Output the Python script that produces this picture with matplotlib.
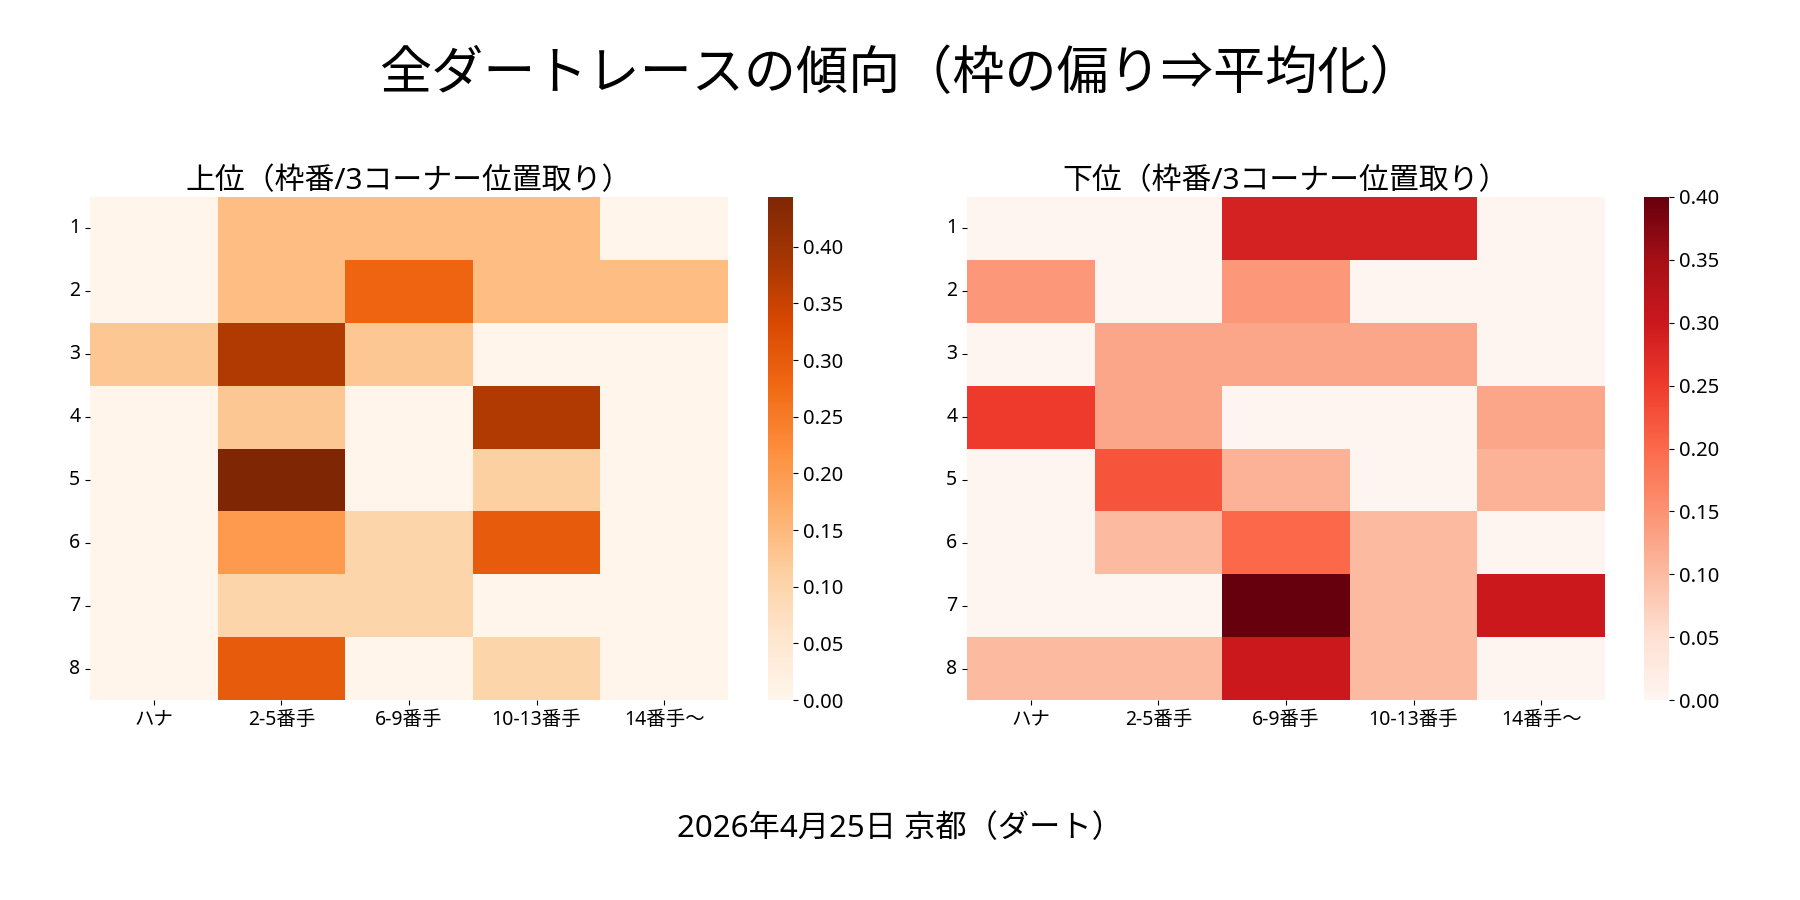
import matplotlib
matplotlib.use("Agg")
import numpy as np
import pandas as pd
import matplotlib.pyplot as plt
import seaborn as sns

plt.rcParams['font.family'] = ['Noto Sans', 'Noto Sans CJK JP', 'DejaVu Sans']

# 枠番 (rows) / 3コーナー位置取り (columns)
gates = ["1", "2", "3", "4", "5", "6", "7", "8"]
positions = ["ハナ", "2-5番手", "6-9番手", "10-13番手", "14番手〜"]

# 上位
upper = [
    [0.000, 0.143, 0.143, 0.143, 0.000],
    [0.000, 0.143, 0.286, 0.143, 0.143],
    [0.125, 0.375, 0.125, 0.000, 0.000],
    [0.000, 0.125, 0.000, 0.375, 0.000],
    [0.000, 0.444, 0.000, 0.111, 0.000],
    [0.000, 0.200, 0.100, 0.300, 0.000],
    [0.000, 0.100, 0.100, 0.000, 0.000],
    [0.000, 0.300, 0.000, 0.100, 0.000],
]

# 下位
lower = [
    [0.000, 0.000, 0.286, 0.286, 0.000],
    [0.143, 0.000, 0.143, 0.000, 0.000],
    [0.000, 0.125, 0.125, 0.125, 0.000],
    [0.250, 0.125, 0.000, 0.000, 0.125],
    [0.000, 0.222, 0.111, 0.000, 0.111],
    [0.000, 0.100, 0.200, 0.100, 0.000],
    [0.000, 0.000, 0.400, 0.100, 0.300],
    [0.100, 0.100, 0.300, 0.100, 0.000],
]

fig = plt.figure(figsize=(18, 9), dpi=100)
W, H = 1800, 900


def box(x0, x1, y0, y1):
    # pixel box -> figure fraction [left, bottom, width, height]
    return [x0 / W, 1 - y1 / H, (x1 - x0) / W, (y1 - y0) / H]


panels = [
    (upper, "Oranges", "上位（枠番/3コーナー位置取り）", box(90, 728, 197, 700), box(768, 793, 197, 700)),
    (lower, "Reds", "下位（枠番/3コーナー位置取り）", box(967, 1605, 197, 700), box(1644, 1669, 197, 700)),
]

for values, cmap, title, ax_box, cb_box in panels:
    ax = fig.add_axes(ax_box)
    cax = fig.add_axes(cb_box)
    df = pd.DataFrame(values, index=gates, columns=positions)
    sns.heatmap(df, cmap=cmap, ax=ax, cbar_ax=cax)
    ax.set_title(title, fontsize=21.5, pad=6)
    ax.tick_params(axis="both", labelsize=14)
    ax.set_yticklabels(ax.get_yticklabels(), rotation=0)
    ax.set_xticklabels(ax.get_xticklabels(), rotation=0)
    cax.yaxis.set_major_locator(matplotlib.ticker.MultipleLocator(0.05))
    cax.yaxis.set_major_formatter(matplotlib.ticker.FormatStrFormatter("%.2f"))
    cax.tick_params(labelsize=14.5)

fig.suptitle("全ダートレースの傾向（枠の偏り⇒平均化）", fontsize=37.5, y=1 - 75 / H, va="center")
fig.text(0.5, 1 - 829 / H, "2026年4月25日 京都（ダート）", fontsize=22.5, ha="center", va="center")

fig.savefig("out.png", dpi=100)
